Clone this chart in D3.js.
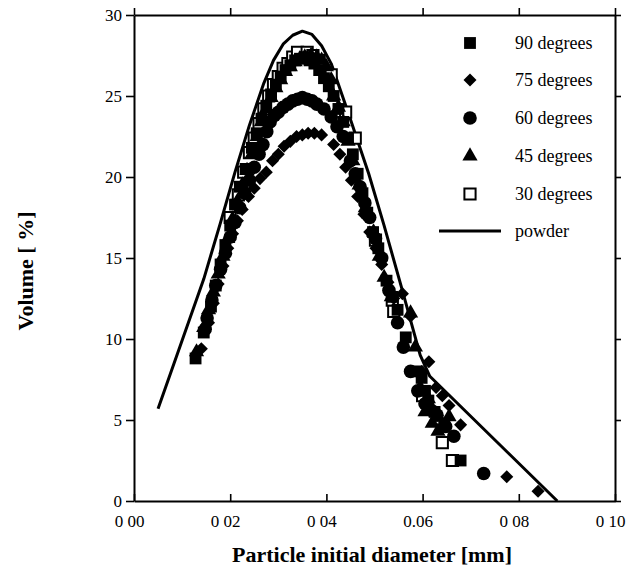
<!DOCTYPE html>
<html><head><meta charset="utf-8">
<script src="https://cdn.jsdelivr.net/npm/d3@7"></script>
<style>body{margin:0;background:#fff}svg{display:block}</style>
</head><body>
<svg id="c" width="637" height="572"></svg>
<script>
// ---- data ----
const xTicks = [0, 0.02, 0.04, 0.06, 0.08, 0.10];
const xTickLabels = ["0 00", "0 02", "0 04", "0.06", "0 08", "0 10"];
const yTicks = [0, 5, 10, 15, 20, 25, 30];
const seriesNames = ["90 degrees", "75 degrees", "60 degrees", "45 degrees", "30 degrees", "powder"];

const powderX = [0.005, 0.010, 0.0145, 0.018, 0.021, 0.024, 0.027, 0.029, 0.031, 0.033, 0.035, 0.037, 0.039, 0.041, 0.0445, 0.0488, 0.052, 0.0556, 0.0595, 0.0615, 0.088];
const powderY = [5.7, 9.9, 13.7, 17.2, 20.3, 23.2, 25.8, 27.2, 28.2, 28.75, 29.0, 28.8, 28.1, 27.0, 24.0, 20.2, 17.0, 13.2, 9.0, 7.7, 0.0];

const deg90X = [0.0128, 0.0145, 0.0160, 0.0170, 0.0180, 0.0190, 0.0200, 0.0210, 0.0220, 0.0232, 0.0245, 0.0255, 0.0265, 0.0275, 0.0285, 0.0295, 0.0305, 0.0315, 0.0325, 0.0335, 0.0345, 0.0355, 0.0365, 0.0375, 0.0385, 0.0395, 0.0405, 0.0415, 0.0425, 0.0435, 0.0445, 0.0455, 0.0465, 0.0475, 0.0485, 0.0497, 0.0508, 0.0525, 0.0537, 0.0548, 0.0565, 0.0590, 0.0598, 0.0605, 0.0612, 0.0625, 0.0645, 0.0679];
const deg90Y = [8.8, 10.4, 12.0, 13.3, 14.6, 15.8, 17.0, 18.3, 19.4, 20.5, 21.8, 22.7, 23.6, 24.4, 25.1, 25.7, 26.2, 26.6, 26.9, 27.2, 27.3, 27.4, 27.2, 27.0, 26.6, 26.1, 25.6, 25.0, 24.2, 23.4, 22.4, 21.4, 20.2, 19.0, 17.8, 16.6, 15.6, 13.6, 12.6, 11.8, 10.1, 8.0, 7.6, 6.8, 6.2, 5.5, 4.8, 2.5];

const deg75X = [0.0140, 0.0155, 0.0165, 0.0175, 0.0185, 0.0195, 0.0205, 0.0215, 0.0225, 0.0238, 0.0250, 0.0262, 0.0275, 0.0288, 0.0300, 0.0312, 0.0325, 0.0338, 0.0350, 0.0362, 0.0375, 0.0390, 0.0415, 0.0428, 0.0440, 0.0452, 0.0465, 0.0478, 0.0490, 0.0503, 0.0515, 0.0528, 0.0540, 0.0558, 0.0575, 0.0598, 0.0613, 0.0628, 0.0641, 0.0655, 0.0679, 0.0775, 0.0840];
const deg75Y = [9.4, 11.0, 12.2, 13.4, 14.5, 15.6, 16.5, 17.3, 18.0, 18.8, 19.3, 19.9, 20.3, 21.0, 21.4, 21.9, 22.2, 22.5, 22.6, 22.7, 22.7, 22.6, 22.0, 21.4, 20.6, 19.8, 18.8, 17.7, 16.6, 15.6, 14.6, 13.5, 12.5, 12.8, 11.4, 8.0, 8.6, 7.0, 6.5, 5.9, 4.7, 1.5, 0.6];

const deg60X = [0.0148, 0.0152, 0.0162, 0.0170, 0.0180, 0.0190, 0.0200, 0.0210, 0.0220, 0.0230, 0.0240, 0.0250, 0.0260, 0.0268, 0.0276, 0.0283, 0.0292, 0.0300, 0.0310, 0.0320, 0.0330, 0.0340, 0.0350, 0.0360, 0.0370, 0.0380, 0.0395, 0.0410, 0.0422, 0.0435, 0.0450, 0.0460, 0.0470, 0.0480, 0.0490, 0.0502, 0.0515, 0.0530, 0.0548, 0.0560, 0.0575, 0.0590, 0.0605, 0.0618, 0.0630, 0.0648, 0.0665, 0.0727];
const deg60Y = [10.6, 11.3, 12.4, 13.3, 14.3, 15.3, 16.3, 17.2, 18.1, 19.0, 19.8, 20.6, 21.4, 22.0, 22.8, 23.4, 23.8, 24.0, 24.3, 24.5, 24.7, 24.8, 24.9, 24.8, 24.7, 24.5, 24.2, 23.7, 23.1, 22.5, 21.0, 20.2, 19.4, 18.4, 17.5, 16.2, 15.0, 13.0, 11.0, 9.5, 8.0, 6.8, 6.0, 5.6, 5.3, 4.6, 4.0, 1.7];

const deg45X = [0.0130, 0.0145, 0.0155, 0.0165, 0.0175, 0.0185, 0.0195, 0.0205, 0.0215, 0.0225, 0.0235, 0.0245, 0.0256, 0.0265, 0.0275, 0.0285, 0.0295, 0.0305, 0.0315, 0.0325, 0.0335, 0.0345, 0.0355, 0.0368, 0.0380, 0.0390, 0.0400, 0.0410, 0.0415, 0.0425, 0.0435, 0.0445, 0.0455, 0.0468, 0.0481, 0.0498, 0.0510, 0.0520, 0.0535, 0.0575, 0.0585, 0.0595, 0.0605, 0.0612, 0.0620, 0.0632, 0.0640, 0.0655];
const deg45Y = [9.2, 10.7, 11.8, 12.9, 14.0, 15.1, 16.2, 17.4, 18.5, 19.5, 20.4, 21.4, 22.5, 23.4, 24.2, 24.9, 25.5, 26.0, 26.5, 26.8, 27.1, 27.3, 27.4, 27.5, 27.4, 27.2, 26.8, 26.0, 25.0, 24.3, 23.4, 22.2, 21.0, 19.5, 18.1, 16.6, 15.1, 13.8, 12.6, 11.6, 9.5, 7.0, 5.5, 6.3, 4.8, 4.3, 4.5, 5.2];

const deg30X = [0.0200, 0.0217, 0.0228, 0.0240, 0.0250, 0.0260, 0.0270, 0.0280, 0.0290, 0.0300, 0.0310, 0.0320, 0.0330, 0.0340, 0.0360, 0.0372, 0.0385, 0.0410, 0.0440, 0.0460, 0.0502, 0.0537, 0.0540, 0.0600, 0.0641, 0.0662];
const deg30Y = [17.5, 18.9, 20.3, 21.5, 22.4, 23.3, 24.2, 25.0, 25.7, 26.2, 26.7, 27.0, 27.4, 27.7, 27.7, 27.5, 27.2, 26.3, 24.0, 22.4, 16.1, 12.4, 11.7, 6.5, 3.6, 2.5];

// ---- chart ----
const svg = d3.select("#c");
const font = "'Liberation Serif', 'Times New Roman', serif";
const x = d3.scaleLinear().domain([0, 0.1]).range([134, 615]);
const y = d3.scaleLinear().domain([0, 30]).range([501, 15]);

function styleAxis(g) {
  g.select(".domain").attr("stroke", "#000").attr("stroke-width", 2);
  g.selectAll(".tick line").attr("stroke", "#000").attr("stroke-width", 1.6);
  g.selectAll(".tick text").attr("font-family", font).attr("font-size", 17).attr("fill", "#000");
}

// left
svg.append("g").attr("transform", `translate(${x(0)},0)`)
  .call(d3.axisLeft(y).tickValues(yTicks).tickSize(8).tickSizeOuter(0).tickPadding(4).tickFormat(d3.format("d")))
  .call(styleAxis);
// right
svg.append("g").attr("transform", `translate(${x(0.1)},0)`)
  .call(d3.axisRight(y).tickValues(yTicks).tickSize(6).tickSizeOuter(0).tickFormat(""))
  .call(styleAxis);
// top
svg.append("g").attr("transform", `translate(0,${y(30)})`)
  .call(d3.axisTop(x).tickValues(xTicks).tickSize(7).tickSizeOuter(0).tickFormat(""))
  .call(styleAxis);
// bottom (ticks inward)
const bx = svg.append("g").attr("transform", `translate(0,${y(0)})`)
  .call(d3.axisBottom(x).tickValues(xTicks).tickSize(-7).tickSizeOuter(0).tickPadding(14)
    .tickFormat((d, i) => xTickLabels[i]))
  .call(styleAxis);
bx.selectAll(".tick text").attr("dx", -5);

// axis titles
svg.append("text").attr("x", 372).attr("y", 562).attr("text-anchor", "middle")
  .attr("font-family", font).attr("font-weight", "bold").attr("font-size", 22)
  .text("Particle initial diameter [mm]");
svg.append("text").attr("transform", "translate(33,271) rotate(-90)").attr("text-anchor", "middle")
  .attr("font-family", font).attr("font-weight", "bold").attr("font-size", 22)
  .text("Volume [ %]");

// powder line
const powder = powderX.map((v, i) => [v, powderY[i]]);
svg.append("path").datum(powder)
  .attr("fill", "none").attr("stroke", "#000").attr("stroke-width", 3).attr("stroke-linejoin", "round")
  .attr("d", d3.line().x(d => x(d[0])).y(d => y(d[1])));

// symbols
const sym = {
  square: d3.symbol().type(d3.symbolSquare).size(140)(),
  diamond: d3.symbol().type(d3.symbolSquare).size(85)(),
  circle: d3.symbol().type(d3.symbolCircle).size(145)(),
  triangle: d3.symbol().type(d3.symbolTriangle).size(100)(),
  open: d3.symbol().type(d3.symbolSquare).size(125)()
};
const series = [
  {name: seriesNames[0], xs: deg90X, ys: deg90Y, shape: "square", fill: "#000"},
  {name: seriesNames[1], xs: deg75X, ys: deg75Y, shape: "diamond", fill: "#000", rot: 45},
  {name: seriesNames[2], xs: deg60X, ys: deg60Y, shape: "circle", fill: "#000"},
  {name: seriesNames[3], xs: deg45X, ys: deg45Y, shape: "triangle", fill: "#000"},
  {name: seriesNames[4], xs: deg30X, ys: deg30Y, shape: "open", fill: "#fff", stroke: "#000"}
];
const drawOrder = [4, 0, 1, 2, 3];
drawOrder.forEach(k => {
  const s = series[k];
  const pts = s.xs.map((v, i) => [v, s.ys[i]]);
  svg.append("g").selectAll("path").data(pts).join("path")
    .attr("d", sym[s.shape])
    .attr("transform", d => `translate(${x(d[0])},${y(d[1])})${s.rot ? ` rotate(${s.rot})` : ""}`)
    .attr("fill", s.fill)
    .attr("stroke", s.stroke || "none").attr("stroke-width", 2);
});

// legend
const lg = svg.append("g");
const rowY = [43, 80, 118, 156, 194, 231];
series.forEach((s, i) => {
  lg.append("path").attr("d", sym[s.shape])
    .attr("transform", `translate(470,${rowY[i]})${s.rot ? ` rotate(${s.rot})` : ""}`)
    .attr("fill", s.fill).attr("stroke", s.stroke || "none").attr("stroke-width", 2);
  lg.append("text").attr("x", 515).attr("y", rowY[i] + 6).attr("font-family", font).attr("font-size", 18)
    .text(s.name);
});
lg.append("line").attr("x1", 439).attr("x2", 501).attr("y1", rowY[5]).attr("y2", rowY[5])
  .attr("stroke", "#000").attr("stroke-width", 3);
lg.append("text").attr("x", 515).attr("y", rowY[5] + 6).attr("font-family", font).attr("font-size", 18)
  .text(seriesNames[5]);
</script>
</body></html>
